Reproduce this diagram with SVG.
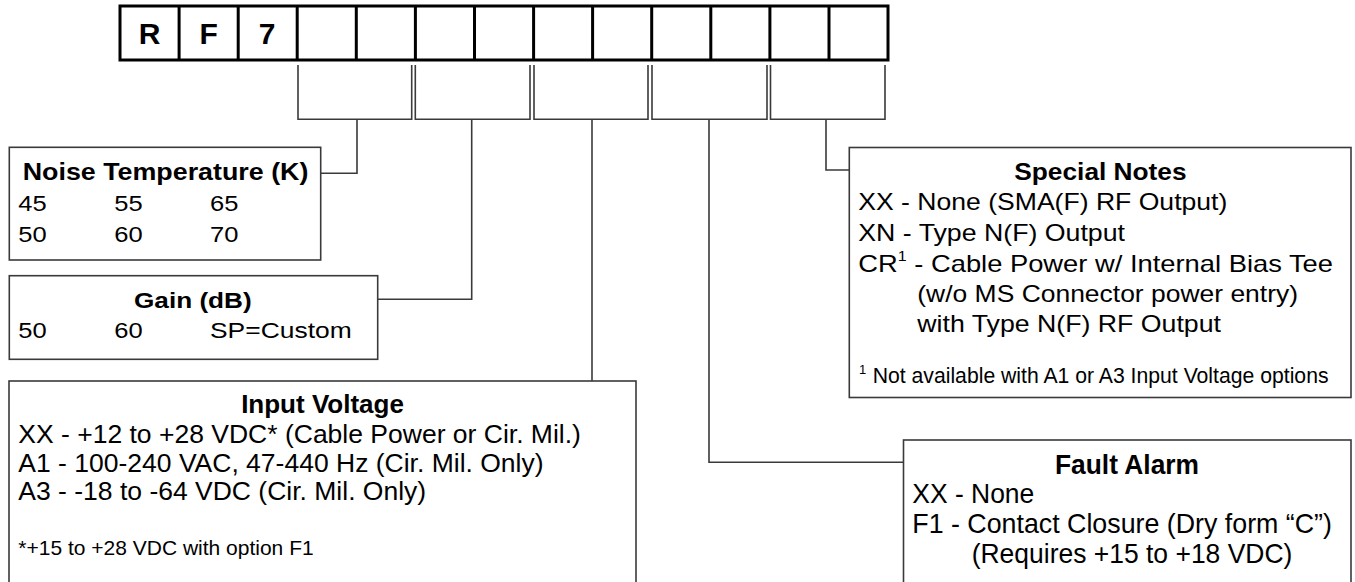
<svg xmlns="http://www.w3.org/2000/svg" width="1355" height="582" viewBox="0 0 1355 582">
<style>
.cell{fill:#fff;stroke:#000;stroke-width:3}
.box{fill:#fff;stroke:#3a3a3a;stroke-width:1.6}
.ln{fill:none;stroke:#3a3a3a;stroke-width:1.6}
text{font-family:"Liberation Sans",Arial,sans-serif;fill:#000}
.b{font-weight:bold}
.code{font-size:30px;font-weight:bold;text-anchor:middle}
.s22{font-size:22.5px}
.s26{font-size:26.5px}
.s24{font-size:24px}
.s27{font-size:27.5px}
</style>
<rect width="1355" height="582" fill="#fff"/>
<g id="code">
<rect class="cell" x="120" y="6" width="768" height="54"/>
<path class="ln" style="stroke:#000;stroke-width:3" d="M179.1,6V60M238.2,6V60M297.2,6V60M356.3,6V60M415.4,6V60M474.5,6V60M533.6,6V60M592.6,6V60M651.7,6V60M710.8,6V60M769.9,6V60M829,6V60"/>
<text class="code" x="149.5" y="44">R</text>
<text class="code" x="208.6" y="44">F</text>
<text class="code" x="267.2" y="44">7</text>
</g>
<g id="connectors">
<path class="ln" d="M298,65V119.3H411.7V65"/>
<path class="ln" d="M415.3,65V119.3H530V65"/>
<path class="ln" d="M534,65V119.3H648V65"/>
<path class="ln" d="M652,65V119.3H767V65"/>
<path class="ln" d="M770.5,65V119.3H885V65"/>
<path class="ln" d="M357,119.3V173.3H320.7"/>
<path class="ln" d="M471.7,119.3V299.3H377.7"/>
<path class="ln" d="M592,119.3V381"/>
<path class="ln" d="M709,119.3V462.3H903.5"/>
<path class="ln" d="M826,119.3V170H849.3"/>
</g>
<g id="noise">
<rect class="box" x="9.3" y="147.3" width="311.4" height="112.7"/>
<text class="b" style="font-size:23px" x="22.7" y="180" textLength="285.7" lengthAdjust="spacingAndGlyphs">Noise Temperature (K)</text>
<text class="s22" x="18.3" y="211" textLength="28.4" lengthAdjust="spacingAndGlyphs">45</text>
<text class="s22" x="114.3" y="211" textLength="28.4" lengthAdjust="spacingAndGlyphs">55</text>
<text class="s22" x="210" y="211" textLength="28.4" lengthAdjust="spacingAndGlyphs">65</text>
<text class="s22" x="18.3" y="241.7" textLength="28.4" lengthAdjust="spacingAndGlyphs">50</text>
<text class="s22" x="114.3" y="241.7" textLength="28.4" lengthAdjust="spacingAndGlyphs">60</text>
<text class="s22" x="210" y="241.7" textLength="28.4" lengthAdjust="spacingAndGlyphs">70</text>
</g>
<g id="gain">
<rect class="box" x="9.3" y="275.7" width="368.4" height="83.6"/>
<text class="b s22" x="134" y="308.3" textLength="117.7" lengthAdjust="spacingAndGlyphs">Gain (dB)</text>
<text class="s22" x="18.3" y="338.3" textLength="28.4" lengthAdjust="spacingAndGlyphs">50</text>
<text class="s22" x="114.3" y="338.3" textLength="28.4" lengthAdjust="spacingAndGlyphs">60</text>
<text class="s22" x="210" y="338.3" textLength="141.7" lengthAdjust="spacingAndGlyphs">SP=Custom</text>
</g>
<g id="input">
<rect class="box" x="9" y="381" width="627" height="220"/>
<text class="b" style="font-size:26px" x="322.5" y="413.3" text-anchor="middle">Input Voltage</text>
<text class="s26" x="18.3" y="443.3">XX - +12 to +28 VDC* (Cable Power or Cir. Mil.)</text>
<text class="s26" x="18.3" y="471.7">A1 - 100-240 VAC, 47-440 Hz (Cir. Mil. Only)</text>
<text class="s26" x="18.3" y="500">A3 - -18 to -64 VDC (Cir. Mil. Only)</text>
<text style="font-size:21px" x="18.3" y="555">*+15 to +28 VDC with option F1</text>
</g>
<g id="special">
<rect class="box" x="849.3" y="147.5" width="501.7" height="250"/>
<text class="b s24" x="1014.3" y="180" textLength="172.3" lengthAdjust="spacingAndGlyphs">Special Notes</text>
<text class="s24" x="858.3" y="210" textLength="369" lengthAdjust="spacingAndGlyphs">XX - None (SMA(F) RF Output)</text>
<text class="s24" x="858.3" y="241" textLength="266.7" lengthAdjust="spacingAndGlyphs">XN - Type N(F) Output</text>
<text class="s24" x="858.3" y="271.7" textLength="474.7" lengthAdjust="spacingAndGlyphs">CR<tspan dy="-11" style="font-size:14px">1</tspan><tspan dy="11"> - Cable Power w/ Internal Bias Tee</tspan></text>
<text class="s24" x="917.3" y="302.3" textLength="380.7" lengthAdjust="spacingAndGlyphs">(w/o MS Connector power entry)</text>
<text class="s24" x="917.3" y="331.7" textLength="303.7" lengthAdjust="spacingAndGlyphs">with Type N(F) RF Output</text>
<text style="font-size:21.2px" x="859" y="383.3"><tspan dy="-9" style="font-size:13px">1</tspan><tspan x="872.7" dy="9">Not available with A1 or A3 Input Voltage options</tspan></text>
</g>
<g id="fault">
<rect class="box" x="903.5" y="440" width="447.5" height="160"/>
<text class="b s27" x="1055" y="473.5" textLength="144" lengthAdjust="spacingAndGlyphs">Fault Alarm</text>
<text class="s27" x="912.3" y="503.3" textLength="122" lengthAdjust="spacingAndGlyphs">XX - None</text>
<text class="s27" x="912.3" y="533.3" textLength="419.6" lengthAdjust="spacingAndGlyphs">F1 - Contact Closure (Dry form “C”)</text>
<text class="s27" x="971.7" y="563.3" textLength="320.7" lengthAdjust="spacingAndGlyphs">(Requires +15 to +18 VDC)</text>
</g>
</svg>
